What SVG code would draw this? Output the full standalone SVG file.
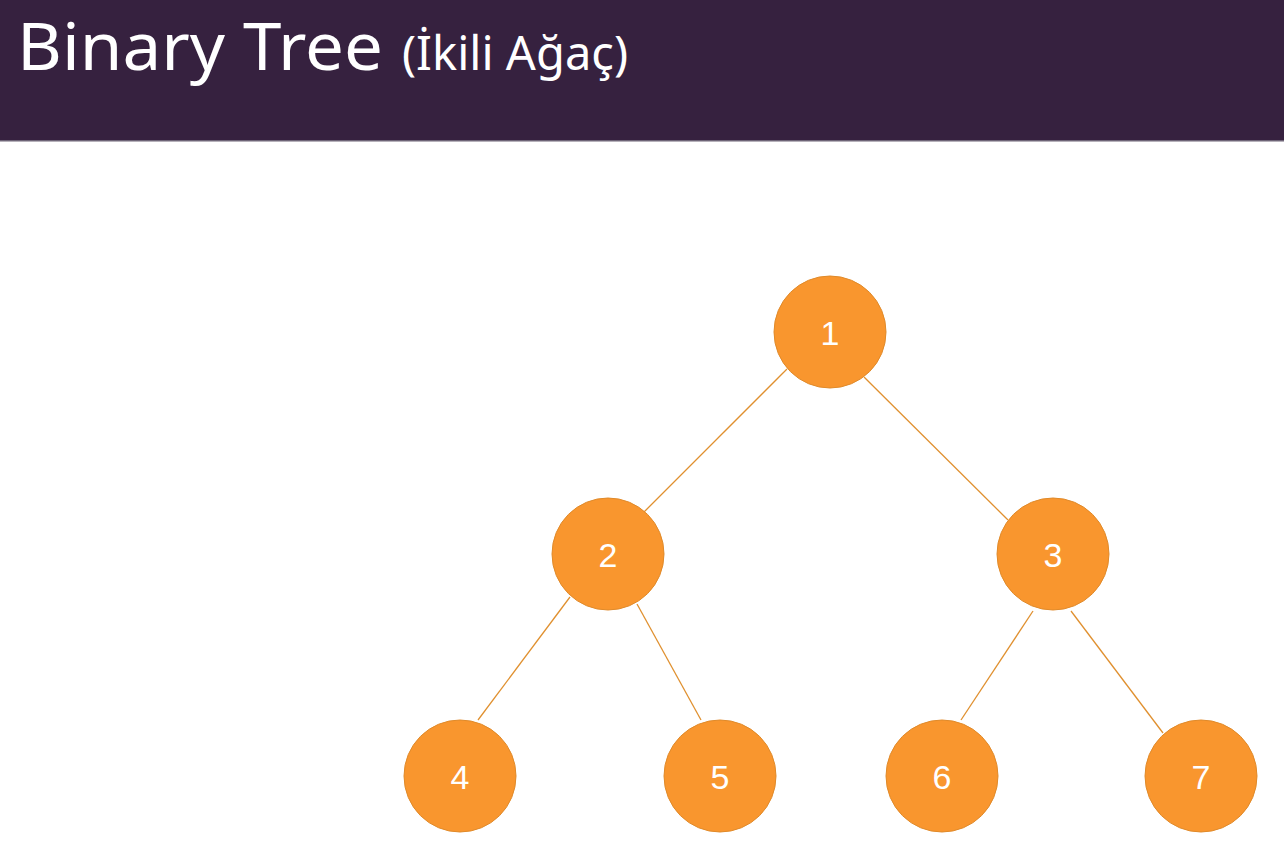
<svg xmlns="http://www.w3.org/2000/svg" width="1284" height="855" viewBox="0 0 1284 855">
<style>
.node circle{fill:#F9962E;stroke:#E08A2A;stroke-width:1}
.node text{fill:#FFFFFF;font-family:"Liberation Sans",Arial,sans-serif;font-size:34px;text-anchor:middle}
.edge{stroke:#E0902F;stroke-width:1.3;fill:none}
.title{fill:#FFFFFF;font-family:"Noto Sans","Open Sans",sans-serif}
</style>
<rect x="0" y="0" width="1284" height="855" fill="#FFFFFF"/>
<g id="header">
<rect x="0" y="0" width="1284" height="141" fill="#36213F"/>
<rect x="0" y="140" width="1284" height="1.5" fill="#6E6477"/>
<text class="title" x="17" y="70" font-size="66" textLength="366" lengthAdjust="spacingAndGlyphs">Binary Tree</text>
<text class="title" x="402" y="70" font-size="48" textLength="226" lengthAdjust="spacingAndGlyphs">(İkili Ağaç)</text>
</g>
<g id="connectors">
<line class="edge" x1="787" y1="369" x2="644" y2="512"/>
<line class="edge" x1="864" y1="377" x2="1008" y2="520"/>
<line class="edge" x1="570" y1="597" x2="478" y2="720"/>
<line class="edge" x1="637" y1="604" x2="701" y2="720"/>
<line class="edge" x1="1033" y1="611" x2="961" y2="720"/>
<line class="edge" x1="1071" y1="611" x2="1163" y2="733"/>
</g>
<g id="node1" class="node"><circle cx="830" cy="332" r="56"/><text x="830" y="345">1</text></g>
<g id="node2" class="node"><circle cx="608" cy="554" r="56"/><text x="608" y="567">2</text></g>
<g id="node3" class="node"><circle cx="1053" cy="554" r="56"/><text x="1053" y="567">3</text></g>
<g id="node4" class="node"><circle cx="460" cy="776" r="56"/><text x="460" y="789">4</text></g>
<g id="node5" class="node"><circle cx="720" cy="776" r="56"/><text x="720" y="789">5</text></g>
<g id="node6" class="node"><circle cx="942" cy="776" r="56"/><text x="942" y="789">6</text></g>
<g id="node7" class="node"><circle cx="1201" cy="776" r="56"/><text x="1201" y="789">7</text></g>
</svg>
